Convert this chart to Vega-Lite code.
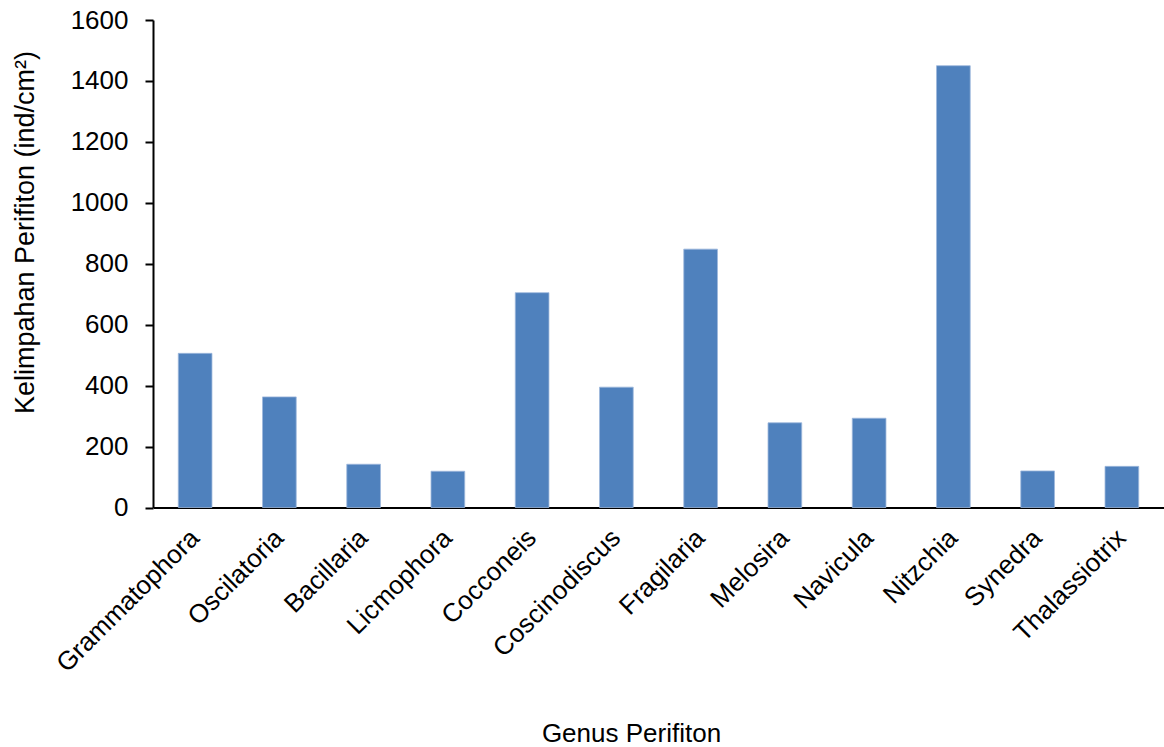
{
  "$schema": "https://vega.github.io/schema/vega-lite/v6.json",
  "autosize": "none",
  "width": 1011,
  "height": 487.5,
  "padding": {"left": 153, "top": 20, "right": 0, "bottom": 239.5},
  "background": "white",
  "config": {
    "view": {"stroke": null},
    "font": "Liberation Sans",
    "axis": {"grid": false, "domainColor": "black", "tickColor": "black", "labelColor": "black", "titleColor": "black", "labelFont": "Liberation Sans", "titleFont": "Liberation Sans", "titleFontWeight": "normal"}
  },
  "data": {
    "values": [
      {"genus": "Grammatophora", "value": 506},
      {"genus": "Oscilatoria", "value": 363},
      {"genus": "Bacillaria", "value": 142},
      {"genus": "Licmophora", "value": 119},
      {"genus": "Cocconeis", "value": 705},
      {"genus": "Coscinodiscus", "value": 395},
      {"genus": "Fragilaria", "value": 848},
      {"genus": "Melosira", "value": 278},
      {"genus": "Navicula", "value": 293},
      {"genus": "Nitzchia", "value": 1450},
      {"genus": "Synedra", "value": 120},
      {"genus": "Thalassiotrix", "value": 135}
    ]
  },
  "mark": {"type": "bar", "color": "#4F81BD", "stroke": "#9db8dc", "strokeWidth": 0.8},
  "encoding": {
    "x": {
      "field": "genus",
      "type": "nominal",
      "sort": null,
      "scale": {"paddingInner": 0.6, "paddingOuter": 0.3},
      "axis": {
        "title": "Genus Perifiton",
        "labelAngle": -45,
        "labelAlign": "right",
        "labelBaseline": "middle",
        "labelFontSize": 26,
        "labelPadding": 26,
        "labelLimit": 500,
        "ticks": false,
        "domainWidth": 2,
        "titleFontSize": 26,
        "titleX": 478,
        "titleY": 226,
        "titleBaseline": "middle",
        "titleAnchor": null
      }
    },
    "y": {
      "field": "value",
      "type": "quantitative",
      "scale": {"domain": [0, 1600], "nice": false},
      "axis": {
        "title": "Kelimpahan Perifiton (ind/cm²)",
        "values": [0, 200, 400, 600, 800, 1000, 1200, 1400, 1600],
        "format": "d",
        "labelFontSize": 26,
        "labelPadding": 17,
        "tickSize": 8,
        "tickWidth": 2,
        "domainWidth": 2,
        "titleFontSize": 27,
        "titleX": -128,
        "titleY": 212,
        "titleAngle": -90,
        "titleAlign": "center",
        "titleBaseline": "middle"
      }
    }
  }
}
